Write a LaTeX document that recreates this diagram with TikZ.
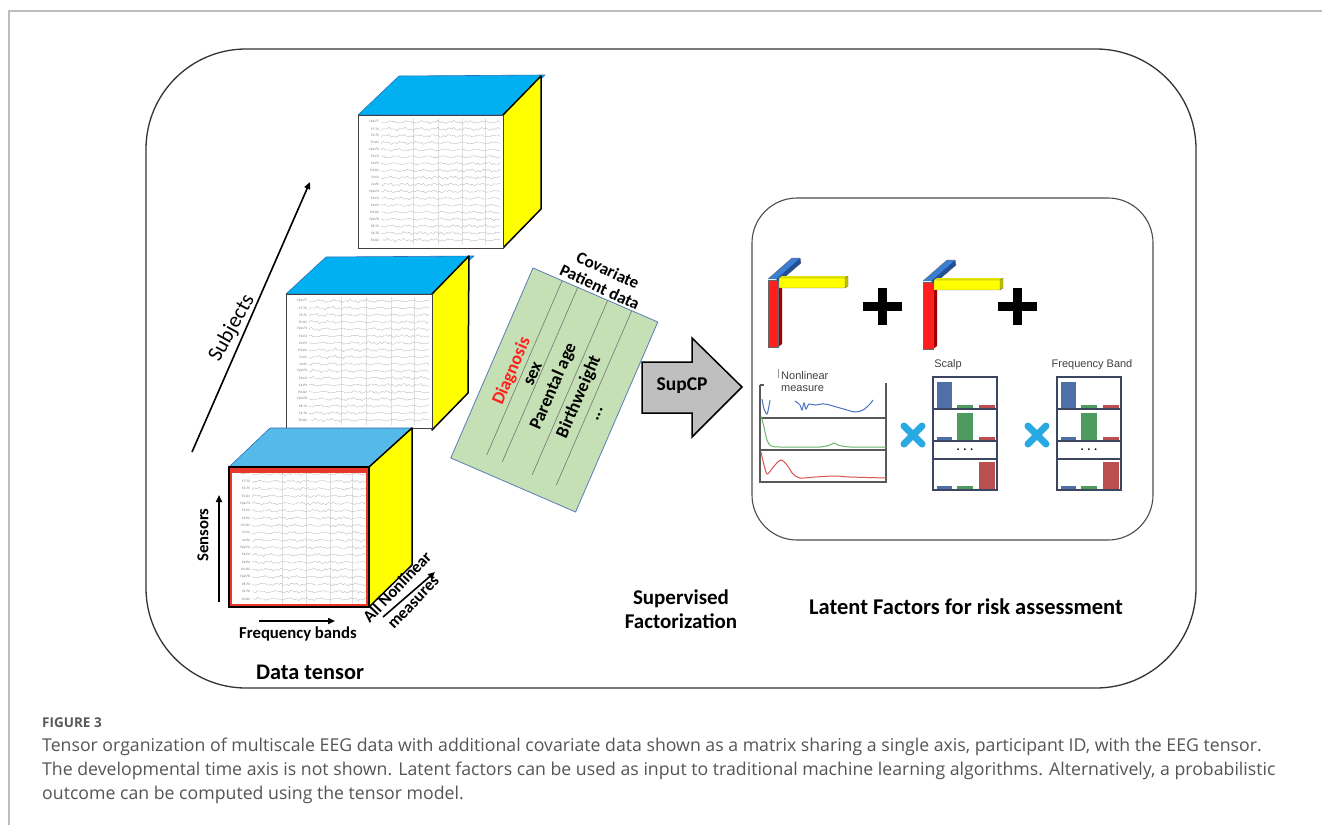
\documentclass[tikz,border=0pt]{standalone}
\usepackage{fontspec}
\setmainfont{Carlito}
\newfontfamily\arialf{Liberation Sans}
\newfontfamily\capfont{Open Sans}
\usetikzlibrary{arrows.meta}

\definecolor{cubeblue}{HTML}{00B0F0}
\definecolor{cubeblueB}{HTML}{55B9E9}
\definecolor{cubeedge}{HTML}{2F6DB5}
\definecolor{cubeyellow}{HTML}{FFFF00}
\definecolor{matgreen}{HTML}{C5E0B4}
\definecolor{matedge}{HTML}{5A7DB5}
\definecolor{arrowgray}{HTML}{BFBFBF}
\definecolor{capgray}{HTML}{555555}
\definecolor{framegray}{HTML}{BDBDBD}
\definecolor{barblue}{HTML}{4E6FA8}
\definecolor{bargreen}{HTML}{4F9A5E}
\definecolor{barred}{HTML}{B9504F}
\definecolor{xblue}{HTML}{29A9E1}
\definecolor{chartframe}{HTML}{3C4660}
\definecolor{diagred}{HTML}{FF1F1F}
\definecolor{redside}{HTML}{A00000}
\definecolor{yelside}{HTML}{BFBF00}
\definecolor{yeltop}{HTML}{E6E600}
\definecolor{fblue}{HTML}{3A7FD5}
\definecolor{fbluedark}{HTML}{1F4E9A}
\definecolor{rborder}{HTML}{E8382A}
\definecolor{curveblue}{HTML}{4A72C4}
\definecolor{curvegreen}{HTML}{6BB56B}
\definecolor{curvered}{HTML}{D9534F}

\tikzset{
  lblB/.style={font=\bfseries\fontsize{16.7}{18}\selectfont, inner sep=0},
  matlbl/.style={font=\bfseries\fontsize{18}{20}\selectfont, inner sep=0, rotate=66.6},
  chartlbl/.style={font=\arialf\fontsize{11}{12}\selectfont, text=black!75, inner sep=0},
  eeglab/.style={font=\itshape\fontsize{3.4}{4}\selectfont, text=black!60, anchor=east, inner sep=0},
  eegtrace/.style={black!30, line width=0.3pt},
  topface/.style={draw=cubeedge, line width=0.6pt, line join=round},
  sideface/.style={fill=cubeyellow, draw=black, line width=1.5pt, line join=round},
  frontface/.style={draw=black!75, line width=0.9pt},
  axarrow/.style={black, line width=1.6pt, -{Triangle[length=7pt,width=6pt]}},
  boxline/.style={draw=black!80, line width=1.3pt},
  chartline/.style={chartframe, line width=1.3pt},
  capstyle/.style={font=\capfont\fontsize{17.7}{20}\selectfont, text=capgray, inner sep=0, anchor=base west},
}

\newcommand{\eegface}[5]{%
  \fill[white] (#2,#3) rectangle (#4,#5);
  \foreach \f in {0.38,0.55,0.72,0.88}
    \draw[black!12, line width=0.3pt] ({#2+(#4-#2)*\f},{#3+3}) -- ({#2+(#4-#2)*\f},{#5-3});
  \foreach \lab [count=\i] in {Fp1-F7,F7-T3,T3-T5,T5-O1,Fp1-F3,F3-C3,C3-P3,P3-O1,Fz-Cz,Cz-Pz,Fp2-F4,F4-C4,C4-P4,P4-O2,Fp2-F8,F8-T4,T4-T6,T6-O2}{%
    \pgfmathsetmacro{\ry}{#3+7+(\i-1)*(#5-#3-15)/17}
    \node[eeglab, name=#1\i] at ({#2+21},\ry) {\lab};
    \draw[eegtrace] plot[domain=0:{#4-#2-26}, samples=60]
      ({#2+23+\x}, {\ry+0.8*sin(23*\x+47*\i)+0.6*sin(67*\x+31*\i)+0.5*sin(113*\x+17*\i)});
  }%
}

\newcommand{\parafac}[2]{%
  \begin{scope}[shift={(#1,#2)}]
    \fill[diagred] (768,280) rectangle (778,347);
    \fill[redside] (778,280) -- (782,277) -- (782,344) -- (778,347) -- cycle;
    \draw[black!60, line width=0.4pt] (768,280) rectangle (778,347);
    \fill[fblue] (768,279) -- (792,258) -- (800,258) -- (776,279) -- cycle;
    \fill[fbluedark] (776,279) -- (800,258) -- (801,263) -- (779,282) -- cycle;
    \draw[black!60, line width=0.4pt] (768,279) -- (792,258) -- (800,258) -- (801,263) -- (779,282);
    \fill[yeltop] (779,278) -- (782,276) -- (848,276) -- (845,278) -- cycle;
    \fill[cubeyellow] (779,278) rectangle (845,288);
    \fill[yelside] (845,278) -- (848,276) -- (848,286) -- (845,288) -- cycle;
    \draw[black!55, line width=0.4pt] (779,278) rectangle (845,288) (845,278) -- (848,276) -- (848,286) -- (845,288);
  \end{scope}%
}

\newcommand{\barchart}[1]{%
  \begin{scope}[shift={(#1,0)}]
    \fill[barblue] (4,382) rectangle (19,408);
    \fill[bargreen] (24,405) rectangle (40,408);
    \fill[barred] (46,405) rectangle (62,408);
    \fill[barblue] (4,437) rectangle (19,440);
    \fill[bargreen] (24,413) rectangle (40,440);
    \fill[barred] (46,437) rectangle (62,440);
    \fill[barblue] (4,486) rectangle (19,489);
    \fill[bargreen] (24,486) rectangle (40,489);
    \fill[barred] (46,462) rectangle (62,489);
    \draw[chartline] (0,377) rectangle (64,490);
    \draw[chartline] (0,409) -- (64,409) (0,441) -- (64,441) (0,459) -- (64,459);
  \end{scope}%
}

\begin{document}
\begin{tikzpicture}[x=1pt,y=-1pt]
\useasboundingbox (0,0) rectangle (1322,825);
\fill[white] (0,0) rectangle (1322,825);

\draw[framegray, line width=1.4pt] (9,825) -- (9,11) -- (1322,11);

\draw[boxline, rounded corners=100pt] (146,49) rectangle (1196,688);
\draw[black!70, line width=1.1pt, rounded corners=45pt] (752,198) rectangle (1153,540);

% ===== top cube =====
\fill[cubeblue] (358,115) -- (399,76) -- (545,75) -- (503,115) -- cycle;
\draw[topface] (358,115) -- (399,76) -- (545,75) -- (503,115) -- cycle;
\draw[sideface] (503,115) -- (541,76) -- (541,209) -- (503,248) -- cycle;
\eegface{ta}{358}{115}{503}{248}
\draw[frontface] (358,115) rectangle (503,248);

% ===== middle cube =====
\fill[cubeblue] (286,294) -- (326,257) -- (474,256) -- (432,294) -- cycle;
\draw[topface] (286,294) -- (326,257) -- (474,256) -- (432,294) -- cycle;
\draw[sideface] (432,294) -- (469,256) -- (468,393) -- (432,430) -- cycle;
\eegface{mb}{286}{294}{432}{428}
\draw[frontface] (286,294) rectangle (432,428);

% ===== bottom cube =====
\fill[cubeblueB] (229,467) -- (270,428) -- (413,428) -- (369,467) -- cycle;
\draw[topface] (229,467) -- (270,428) -- (413,428) -- (369,467) -- cycle;
\draw[sideface] (369,467) -- (412,428) -- (412,565) -- (369,607) -- cycle;
\eegface{bc}{229}{467}{369}{607}
\fill[rborder] (229,467) rectangle (369,473);
\draw[rborder, line width=2.4pt] (231,470) rectangle (367,605);
\draw[black, line width=1.4pt] (229,467) rectangle (369,607);

% ===== axes labels =====
\coordinate (subjA) at (192,452);
\coordinate (subjB) at (310,182);
\draw[axarrow] (subjA) -- (subjB);
\node[font=\fontsize{21.5}{24}\selectfont, inner sep=0, rotate=61] (subj) at (232,328) {Subjects};

\coordinate (sensA) at (219,602);
\coordinate (sensB) at (219,495);
\draw[axarrow] (sensA) -- (sensB);
\node[lblB, rotate=90] (sens) at (203,535) {Sensors};

\coordinate (freqA) at (259,621);
\coordinate (freqB) at (335,621);
\draw[axarrow] (freqA) -- (freqB);
\node[lblB] (freq) at (298,634) {Frequency bands};

\coordinate (nlA) at (383,617);
\coordinate (nlB) at (435,572);
\draw[axarrow] (nlA) -- (nlB);
\node[lblB, rotate=46.5] (alln) at (397,587) {All Nonlinear};
\node[lblB, rotate=46.5] (meas) at (414,603) {measures};

\node[inner sep=0, font=\bfseries\fontsize{22.3}{24}\selectfont] (dtensor) at (310,672) {Data tensor};

% ===== covariate matrix =====
\begin{scope}[shift={(533,268)}, rotate=-23.4]
  \fill[matgreen] (0,0) rectangle (136,207);
  \draw[matedge, line width=0.8pt] (0,0) rectangle (136,207);
  \foreach \u in {31.8,48.8,81.4,107.6}
    \draw[black!55, line width=0.6pt] (\u,0) -- (\u,190);
  \coordinate (mDiag) at (21.5,103);
  \coordinate (mSex) at (42.5,97);
  \coordinate (mPar) at (66,100.6);
  \coordinate (mBirth) at (93.5,100);
  \coordinate (mDots) at (119,108);
\end{scope}
\node[matlbl, text=diagred] (diag) at (mDiag) {Diagnosis};
\node[matlbl] (sex) at (mSex) {sex};
\node[matlbl] (par) at (mPar) {Parental age};
\node[matlbl] (birth) at (mBirth) {Birthweight};
\node[matlbl] (dots) at (mDots) {...};
\node[inner sep=0, font=\bfseries\fontsize{17}{18}\selectfont, rotate=-25] (cov) at (608,270) {Covariate};
\node[inner sep=0, font=\bfseries\fontsize{17}{18}\selectfont, rotate=-25] (pat) at (600,287) {Patient data};

% ===== SupCP arrow =====
\draw[fill=arrowgray, draw=black, line width=1.5pt, line join=miter]
  (642,362) -- (692,362) -- (692,338) -- (742,387) -- (692,437) -- (692,413) -- (642,413) -- cycle;
\node[font=\bfseries\fontsize{19.5}{22}\selectfont, inner sep=0] (supcp) at (682,386) {SupCP};

\node[inner sep=0, align=center, font=\bfseries\fontsize{21}{24.5}\selectfont] (supfac) at (681,609) {Supervised\\Factorization};
\node[inner sep=0, font=\bfseries\fontsize{22.5}{24}\selectfont] (latent) at (966,607) {Latent Factors for risk assessment};

% ===== latent factors panel =====
\parafac{0}{0}
\parafac{155}{2}
\fill[black] (863,302) rectangle (902,311);
\fill[black] (878,288) rectangle (887,325);
\fill[black] (998,302) rectangle (1037,311);
\fill[black] (1013,288) rectangle (1022,325);

% line chart
\draw[black!65, line width=1.1pt] (760,385) -- (760,482) -- (886,482) -- (886,383);
\draw[black!65, line width=1.1pt] (760,418) -- (886,418) (760,450) -- (886,450) (760,385) -- (764,385);
\draw[black!40, line width=0.6pt] (778,369) -- (778,378);
\node[chartlbl, anchor=west] (nlm1) at (781,376) {Nonlinear};
\node[chartlbl, anchor=west] (nlm2) at (781,389) {measure};
\draw[curveblue, line width=1pt] plot[smooth] coordinates {(762,399) (764,409) (767,414) (769,406) (770,400)};
\draw[curveblue, line width=1pt] plot[smooth] coordinates {(795,401) (800,405) (802,410) (804,403) (806,409) (809,404) (815,405) (825,404) (840,408) (855,412) (863,410) (870,404) (873,400)};
\draw[curvegreen, line width=1pt] plot[smooth] coordinates {(761,416) (764,427) (767,440) (771,446) (780,447) (800,447) (820,447) (830,445) (834,443) (838,445) (850,447) (886,447)};
\draw[curvered, line width=1pt] plot[smooth] coordinates {(761,452) (764,465) (767,474) (771,470) (775,465) (781,460) (787,465) (793,474) (800,478) (815,477) (835,476) (850,477) (886,478)};

% multiplication crosses
\draw[xblue, line width=7pt, line cap=round] (904,426) -- (922,444) (904,444) -- (922,426);
\draw[xblue, line width=7pt, line cap=round] (1028,426) -- (1046,444) (1028,444) -- (1046,426);

% bar charts
\barchart{933}
\barchart{1057}
\node[font=\bfseries\fontsize{12}{12}\selectfont, inner sep=0] (dotsA) at (965,450) {. . .};
\node[font=\bfseries\fontsize{12}{12}\selectfont, inner sep=0] (dotsB) at (1089,450) {. . .};
\node[chartlbl] (scalp) at (948,365) {Scalp};
\node[chartlbl] (fband) at (1092,365) {Frequency Band};

% ===== caption =====
\node[capstyle, font=\capfont\bfseries\fontsize{13.5}{15}\selectfont, text=black!65] (figno) at (42,727) {FIGURE 3};
\node[capstyle] (cap1) at (42,751) {Tensor organization of multiscale EEG data with additional covariate data shown as a matrix sharing a single axis, participant ID, with the EEG tensor.};
\node[capstyle] (cap2) at (42,775) {The developmental time axis is not shown. Latent factors can be used as input to traditional machine learning algorithms. Alternatively, a probabilistic};
\node[capstyle] (cap3) at (42,799) {outcome can be computed using the tensor model.};
\end{tikzpicture}
\end{document}
